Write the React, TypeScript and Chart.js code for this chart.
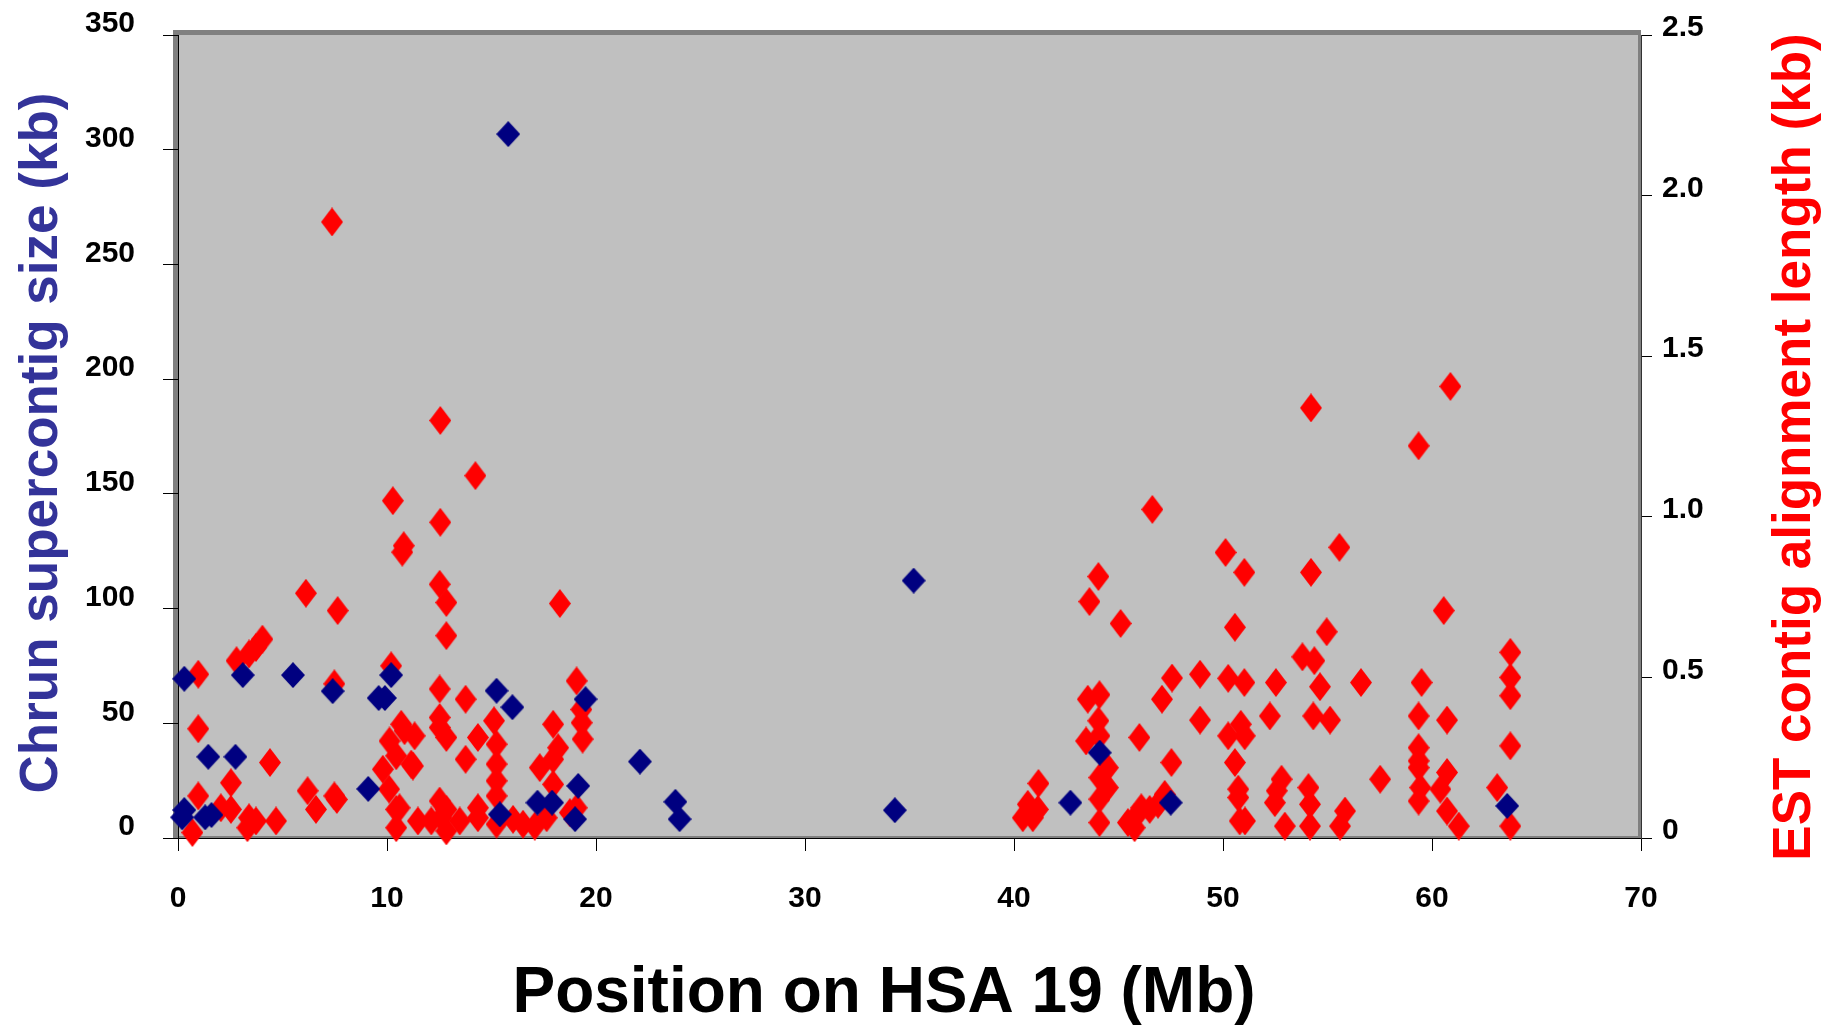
import { useEffect, useRef } from "react";
import { Chart, registerables } from "chart.js";

Chart.register(...registerables);

// Chrun supercontig size (kb) vs position (Mb) — left axis
const blueX = [0.3, 3.1, 5.5, 7.4, 9.6, 9.9, 10.2, 1.45, 2.75, 9.1, 0.3, 0.2, 1.3, 1.6, 15.8, 15.24, 16.0, 19.5, 15.4, 17.2, 17.9, 19.15, 19.0, 22.1, 23.8, 24.0, 35.2, 34.3, 42.7, 44.1, 47.5, 63.6];
const blueY = [69.4, 71, 71, 64, 61, 61, 71, 35.4, 35.4, 21.4, 12.2, 9, 9, 10, 306.8, 64.2, 57, 60.5, 10.3, 15.4, 15.4, 22.7, 8.2, 33.3, 15.8, 8.2, 112.2, 12.1, 15.4, 37.2, 15.4, 14];

// EST contig alignment length (kb) vs position (Mb) — right axis
const redX = [
  0.97, 0.97, 0.97, 0.69, 2.8, 3.4, 3.73, 4.04, 4.4, 2.53, 2.05, 2.53, 3.4, 3.73, 4.69, 3.32,
  6.12, 7.64, 7.48, 6.2, 6.6, 7.48, 7.6, 7.37,
  10.28, 10.73, 10.8, 12.55, 12.55, 14.23, 12.52, 12.84, 12.84, 10.2,
  10.68, 11.32, 10.12, 9.8, 10.44, 11.24, 10.84, 11.16, 10.1, 10.44, 10.44, 11.48, 10.6,
  12.52, 12.52, 12.52, 12.84, 12.52, 12.84, 12.84, 12.12, 12.6,
  13.76, 13.76, 14.35, 13.48, 14.35, 14.35,
  15.12, 15.24, 15.24, 15.24, 15.24, 15.24,
  16.03, 16.51, 17.07, 17.64,
  17.31, 17.95, 18.19, 17.95, 17.95, 18.27,
  19.07, 19.3, 19.31, 19.36, 18.75, 19.07,
  40.42, 40.66, 40.9, 41.14, 41.17,
  43.45, 43.53, 43.61, 44.04, 44.09, 44.04, 44.09, 44.49, 44.09, 44.49, 44.09, 44.09,
  45.1, 45.45, 45.77, 45.77, 46.09, 46.49, 46.89, 46.0, 46.62,
  47.08, 47.21, 47.53, 47.56, 48.9, 48.9,
  50.12, 51.02, 50.57, 50.25, 51.02, 50.25, 50.85, 51.04, 50.57, 50.73, 50.73, 50.8, 51.05,
  52.53, 52.24, 52.8, 52.57, 52.48, 52.96,
  53.8, 54.37, 54.21, 55.57, 54.21, 54.96, 54.64, 54.32, 55.12, 54.09, 54.16, 54.16, 55.84, 55.6,
  56.6, 57.52,
  59.36, 59.5, 59.36, 59.36, 59.36, 59.36, 59.44, 59.36,
  60.88, 60.56, 60.72, 60.72, 60.4, 60.72, 61.28,
  63.12, 63.75, 63.75, 63.75, 63.75, 63.75,
];
const redY = [
  0.51, 0.34, 0.131, 0.017, 0.552, 0.573, 0.593, 0.619, 0.235, 0.172, 0.094, 0.089, 0.063, 0.053, 0.053, 0.032,
  0.762, 0.708, 0.48, 0.147, 0.089, 0.131, 0.12, 1.918,
  1.05, 0.89, 0.91, 1.3, 0.983, 1.128, 0.79, 0.733, 0.63, 0.536,
  0.354, 0.318, 0.302, 0.214, 0.256, 0.224, 0.334, 0.23, 0.152, 0.089, 0.032, 0.053, 0.094,
  0.464, 0.375, 0.344, 0.313, 0.115, 0.089, 0.022, 0.053, 0.063,
  0.432, 0.245, 0.313, 0.053, 0.094, 0.063,
  0.365, 0.292, 0.23, 0.178, 0.131, 0.043,
  0.058, 0.043, 0.037, 0.063,
  0.219, 0.245, 0.281, 0.354, 0.167, 0.73,
  0.489, 0.4, 0.359, 0.308, 0.079, 0.094,
  0.063, 0.105, 0.063, 0.089, 0.17,
  0.302, 0.432, 0.736, 0.814, 0.446, 0.365, 0.318, 0.219, 0.188, 0.157, 0.121, 0.048,
  0.668, 0.048, 0.063, 0.032, 0.094, 0.089, 0.105, 0.313, 1.023,
  0.432, 0.136, 0.235, 0.498, 0.51, 0.367,
  0.889, 0.827, 0.656, 0.497, 0.484, 0.318, 0.354, 0.318, 0.235, 0.152, 0.126, 0.053, 0.053,
  0.484, 0.38, 0.183, 0.147, 0.11, 0.037,
  0.564, 0.552, 0.827, 0.905, 1.339, 0.642, 0.471, 0.38, 0.367, 0.157, 0.105, 0.037, 0.084, 0.037,
  0.484, 0.183,
  1.221, 0.484, 0.38, 0.281, 0.24, 0.219, 0.157, 0.115,
  1.406, 0.708, 0.367, 0.204, 0.152, 0.084, 0.037,
  0.157, 0.578, 0.5, 0.443, 0.287, 0.037,
];

const X_TITLE = "Position on HSA 19 (Mb)";
const LEFT_TITLE = "Chrun supercontig size (kb)";
const RIGHT_TITLE = "EST contig alignment length (kb)";

const FONT = "'Liberation Sans', Arial, Helvetica, sans-serif";

function diamond(w: number, h: number, color: string) {
  const c = document.createElement("canvas");
  c.width = w;
  c.height = h;
  const ctx = c.getContext("2d")!;
  ctx.fillStyle = color;
  ctx.beginPath();
  ctx.moveTo(w / 2, 0);
  ctx.lineTo(w, h / 2);
  ctx.lineTo(w / 2, h);
  ctx.lineTo(0, h / 2);
  ctx.closePath();
  ctx.fill();
  return c;
}

const framePlugin = {
  id: "frame",
  beforeDraw(chart: any) {
    const { ctx, chartArea: a } = chart;
    ctx.save();
    ctx.fillStyle = "#ffffff";
    ctx.fillRect(0, 0, chart.width, chart.height);
    ctx.fillStyle = "#808080";
    ctx.fillRect(a.left - 5, a.top - 5, a.right - a.left + 5, a.bottom - a.top + 5);
    ctx.fillStyle = "#C0C0C0";
    ctx.fillRect(a.left, a.top, a.right - a.left - 3, a.bottom - a.top - 2);
    ctx.restore();
  },
  afterDraw(chart: any) {
    const { ctx } = chart;
    ctx.save();
    ctx.textAlign = "center";
    ctx.textBaseline = "alphabetic";
    ctx.font = `bold 64px ${FONT}`;
    ctx.fillStyle = "#000000";
    ctx.fillText(X_TITLE, 884, 1012);

    ctx.font = `bold 53px ${FONT}`;
    ctx.save();
    ctx.translate(57, 443);
    ctx.rotate(-Math.PI / 2);
    ctx.fillStyle = "#333399";
    ctx.fillText(LEFT_TITLE, 0, 0);
    ctx.restore();

    ctx.save();
    ctx.translate(1810, 447);
    ctx.rotate(-Math.PI / 2);
    ctx.fillStyle = "#FF0000";
    ctx.fillText(RIGHT_TITLE, 0, 0);
    ctx.restore();
    ctx.restore();
  },
};

export default function App() {
  const ref = useRef<HTMLCanvasElement | null>(null);

  useEffect(() => {
    if (!ref.current) return;
    const blueImg = diamond(24, 26, "#000080");
    const redImg = diamond(22, 29, "#FF0000");
    const tickFont = { family: FONT, size: 30, weight: "bold" as const };

    const chart = new Chart(ref.current, {
      type: "scatter",
      data: {
        datasets: [
          {
            label: "Chrun supercontig size (kb)",
            data: blueX.map((x, i) => ({ x, y: blueY[i] })),
            yAxisID: "y",
            pointStyle: blueImg as any,
            pointRadius: 12,
            backgroundColor: "#000080",
            clip: false as any,
          },
          {
            label: "EST contig alignment length (kb)",
            data: redX.map((x, i) => ({ x, y: redY[i] })),
            yAxisID: "y1",
            pointStyle: redImg as any,
            pointRadius: 12,
            backgroundColor: "#FF0000",
            clip: false as any,
          },
        ],
      },
      options: {
        animation: false,
        responsive: false,
        layout: { padding: { top: 35, left: 0, right: 0, bottom: 0 } },
        plugins: { legend: { display: false }, tooltip: { enabled: false } },
        scales: {
          x: {
            type: "linear",
            position: "bottom",
            min: 0,
            max: 70,
            ticks: { stepSize: 10, padding: 30, color: "#000", font: tickFont },
            grid: { drawOnChartArea: false, drawTicks: true, tickLength: 13, color: "#000" },
            border: { color: "#000", width: 1 },
            afterFit: (s: any) => {
              s.height = 188;
              s.paddingLeft = 0;
              s.paddingRight = 0;
            },
          },
          y: {
            type: "linear",
            position: "left",
            min: 0,
            max: 350,
            ticks: { stepSize: 50, padding: 28, labelOffset: -11, color: "#000", font: tickFont },
            grid: { drawOnChartArea: false, drawTicks: true, tickLength: 15, color: "#000" },
            border: { color: "#000", width: 1 },
            afterFit: (s: any) => {
              s.width = 178;
              s.paddingTop = 0;
              s.paddingBottom = 0;
            },
          },
          y1: {
            type: "linear",
            position: "right",
            min: 0,
            max: 2.5,
            ticks: {
              stepSize: 0.5,
              padding: 10,
              labelOffset: -7,
              color: "#000",
              font: tickFont,
              callback: (v: any) => (Number(v) === 0 ? "0" : Number(v).toFixed(1)),
            },
            grid: { drawOnChartArea: false, drawTicks: true, tickLength: 11, color: "#000" },
            border: { color: "#333", width: 1 },
            afterFit: (s: any) => {
              s.width = 186;
              s.paddingTop = 0;
              s.paddingBottom = 0;
            },
          },
        },
      } as any,
      plugins: [framePlugin],
    });
    return () => chart.destroy();
  }, []);

  return (
    <div style={{ position: "absolute", left: 0, top: 0, width: 1827, height: 1026, background: "#fff" }}>
      <canvas ref={ref} width={1827} height={1026} style={{ display: "block" }} />
    </div>
  );
}
